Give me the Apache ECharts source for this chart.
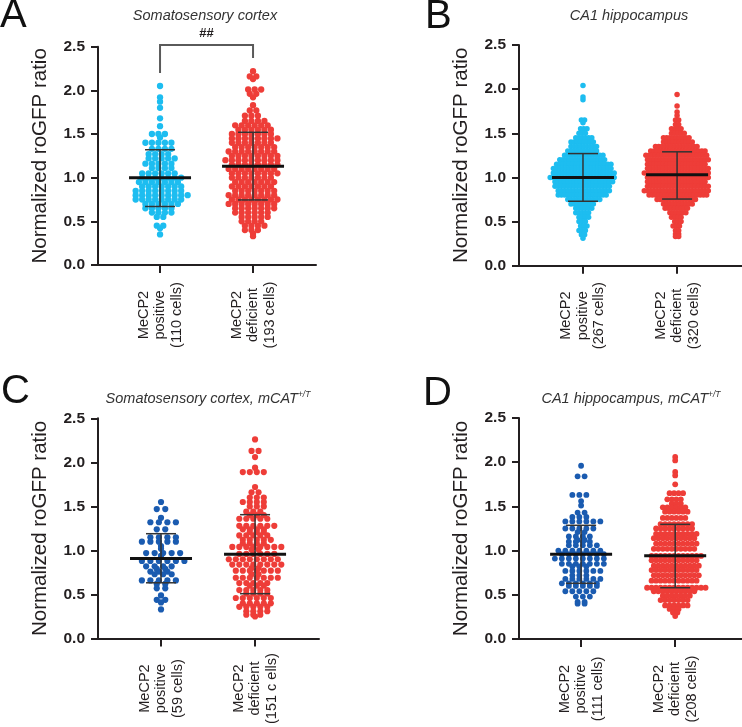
<!DOCTYPE html>
<html>
<head>
<meta charset="utf-8">
<title>Normalized roGFP ratio</title>
<script src="https://cdn.jsdelivr.net/npm/echarts@6/dist/echarts.min.js"></script>
<style>
  html, body { margin: 0; padding: 0; background: #fff; }
  #chart { width: 742px; height: 727px; }
</style>
</head>
<body>
<div id="chart"></div>
<script>
// rows of the dot plots: [ratio, number of cells drawn on that row]
const posA = [[2.05,1],[1.92,1],[1.87,1],[1.80,1],[1.68,1],[1.59,1],[1.50,3],[1.46,1],[1.40,5],[1.33,4],[1.27,4],[1.22,5],[1.16,5],[1.11,4],[1.05,6],[1.00,7],[0.95,7],[0.90,7],[0.85,8],[0.80,9],[0.75,8],[0.70,6],[0.65,5],[0.60,4],[0.55,2],[0.45,2],[0.42,1],[0.35,1]];
const defA = [[2.22,1],[2.16,2],[2.13,1],[2.01,3],[1.96,2],[1.92,1],[1.83,1],[1.77,2],[1.71,3],[1.65,4],[1.60,6],[1.55,6],[1.50,7],[1.45,8],[1.40,7],[1.35,7],[1.30,8],[1.25,8],[1.20,9],[1.15,8],[1.10,8],[1.05,8],[1.00,7],[0.95,7],[0.90,7],[0.85,7],[0.80,8],[0.75,8],[0.70,8],[0.65,7],[0.60,6],[0.55,5],[0.50,4],[0.45,4],[0.40,3],[0.36,1],[0.33,1]];
const posB = [[2.04,1],[1.91,1],[1.88,1],[1.65,2],[1.62,1],[1.55,3],[1.50,3],[1.45,6],[1.40,8],[1.35,9],[1.30,10],[1.25,13],[1.20,15],[1.15,18],[1.10,19],[1.05,20],[1.00,21],[0.95,19],[0.90,18],[0.85,17],[0.80,16],[0.75,11],[0.70,8],[0.65,6],[0.60,5],[0.55,4],[0.50,3],[0.45,3],[0.40,3],[0.35,2],[0.31,1]];
const defB = [[1.94,1],[1.81,1],[1.74,1],[1.70,1],[1.65,2],[1.60,2],[1.55,4],[1.50,5],[1.45,9],[1.40,10],[1.35,14],[1.30,18],[1.25,20],[1.20,20],[1.15,19],[1.10,20],[1.05,21],[1.00,20],[0.95,19],[0.90,20],[0.85,21],[0.80,19],[0.75,13],[0.70,10],[0.65,8],[0.60,6],[0.55,4],[0.50,3],[0.45,3],[0.40,2],[0.36,2],[0.33,2]];
const posC = [[1.55,1],[1.47,2],[1.37,1],[1.32,4],[1.24,2],[1.15,4],[1.10,5],[1.05,1],[1.02,1],[0.97,5],[0.94,1],[0.88,6],[0.82,4],[0.79,2],[0.76,3],[0.73,3],[0.66,5],[0.62,2],[0.57,2],[0.49,1],[0.44,2],[0.41,1],[0.33,1]];
const defC = [[2.26,1],[2.13,2],[2.06,1],[1.94,1],[1.89,4],[1.72,1],[1.66,2],[1.60,3],[1.55,4],[1.50,3],[1.44,3],[1.40,3],[1.36,5],[1.28,6],[1.24,4],[1.21,3],[1.17,5],[1.12,5],[1.08,4],[1.04,8],[1.01,2],[0.96,6],[0.90,8],[0.84,8],[0.80,2],[0.77,7],[0.73,2],[0.69,7],[0.63,5],[0.60,3],[0.55,5],[0.51,4],[0.46,6],[0.40,5],[0.36,5],[0.31,4],[0.27,3],[0.25,1]];
const posD = [[1.96,1],[1.84,2],[1.63,3],[1.56,1],[1.51,1],[1.43,2],[1.38,3],[1.33,6],[1.25,5],[1.21,2],[1.16,4],[1.12,2],[1.10,4],[1.06,5],[1.00,7],[0.96,7],[0.91,8],[0.85,7],[0.82,3],[0.77,6],[0.72,3],[0.68,6],[0.63,6],[0.60,5],[0.54,5],[0.48,3],[0.42,2],[0.40,2]];
const defD = [[2.06,1],[2.02,1],[1.89,1],[1.85,1],[1.75,1],[1.65,4],[1.58,4],[1.53,3],[1.49,6],[1.44,6],[1.37,6],[1.30,8],[1.25,9],[1.19,10],[1.14,10],[1.08,10],[1.02,10],[0.94,12],[0.89,11],[0.83,11],[0.78,11],[0.72,11],[0.66,11],[0.58,14],[0.54,10],[0.49,7],[0.44,7],[0.38,6],[0.34,3],[0.30,2],[0.26,1]];

// mean and SD (positive, deficient)
const meanA = [1.00, 1.13],  sdLowA = [0.67, 0.745], sdHighA = [1.32, 1.52];
const meanB = [1.00, 1.03],  sdLowB = [0.73, 0.755], sdHighB = [1.27, 1.29];
const meanC = [0.908, 0.957], sdLowC = [0.633, 0.509], sdHighC = [1.19, 1.406];
const meanD = [0.96, 0.942], sdLowD = [0.63, 0.58],  sdHighD = [1.286, 1.297];

const labelsA = [["MeCP2", "positive", "(110 cells)"], ["MeCP2", "deficient", "(193 cells)"]];
const labelsB = [["MeCP2", "positive", "(267 cells)"], ["MeCP2", "deficient", "(320 cells)"]];
const labelsC = [["MeCP2", "positive", "(59 cells)"], ["MeCP2", "deficient", "(151 c ells)"]];
const labelsD = [["MeCP2", "positive", "(111 cells)"], ["MeCP2", "deficient", "(208 cells)"]];

// significance bracket in A: [from, to, left foot, right foot, top]
const bracketA = [0, 1, 2.2, 2.37, 2.52];

const FONT = '"Liberation Sans", Arial, Helvetica, sans-serif';
const INK = "#231f20";
const LIGHT = "#1dbdf0";
const RED = "#ee3d38";
const DARK = "#1a5bb0";

const panels = [
  { grid: { left: 98, top: 46.7, width: 218, height: 218.3 }, xMin: -0.667, xMax: 1.677,
    groups: [posA, defA], colors: [LIGHT, RED], dot: 6.3, gap: [6.5, 6.5],
    mean: meanA, low: sdLowA, high: sdHighA, labels: labelsA },
  { grid: { left: 519, top: 45, width: 223, height: 220.7 }, xMin: -0.68, xMax: 1.69,
    groups: [posB, defB], colors: [LIGHT, RED], dot: 5.5, gap: [3.2, 3.2],
    mean: meanB, low: sdLowB, high: sdHighB, labels: labelsB },
  { grid: { left: 98, top: 418.3, width: 221, height: 221 }, xMin: -0.67, xMax: 1.68,
    groups: [posC, defC], colors: [DARK, RED], dot: 6.2, gap: [8.5, 7],
    mean: meanC, low: sdLowC, high: sdHighC, labels: labelsC },
  { grid: { left: 519, top: 418, width: 223, height: 221 }, xMin: -0.66, xMax: 1.71,
    groups: [posD, defD], colors: [DARK, RED], dot: 5.8, gap: [7, 4.5],
    mean: meanD, low: sdLowD, high: sdHighD, labels: labelsD },
];

// lay each row out side by side around the group centre, nudging
// alternate rows a little so neighbouring rows interlock
function swarm(rows, cat, gap) {
  const out = [];
  rows.forEach(([v, n], k) => {
    const nudge = n > 2 ? (k % 2 ? 0.25 : -0.25) * gap : 0;
    for (let i = 0; i < n; i++) {
      out.push({ value: [cat, v], symbolOffset: [(i - (n - 1) / 2) * gap + nudge, 0] });
    }
  });
  return out;
}

function errorBars(params, api) {
  const x = api.value(0);
  const pm = api.coord([x, api.value(1)]);
  const pl = api.coord([x, api.value(2)]);
  const ph = api.coord([x, api.value(3)]);
  const thin = { stroke: "#333", lineWidth: 1.5 };
  return {
    type: "group",
    children: [
      { type: "line", shape: { x1: pl[0], y1: pl[1], x2: ph[0], y2: ph[1] }, style: thin },
      { type: "line", shape: { x1: ph[0] - 15, y1: ph[1], x2: ph[0] + 15, y2: ph[1] }, style: thin },
      { type: "line", shape: { x1: pl[0] - 15, y1: pl[1], x2: pl[0] + 15, y2: pl[1] }, style: thin },
      { type: "line", shape: { x1: pm[0] - 31, y1: pm[1], x2: pm[0] + 31, y2: pm[1] }, style: { stroke: "#111", lineWidth: 3 } },
    ],
  };
}

function bracket(params, api) {
  const a = api.coord([api.value(0), api.value(2)]);
  const at = api.coord([api.value(0), api.value(4)]);
  const bt = api.coord([api.value(1), api.value(4)]);
  const b = api.coord([api.value(1), api.value(3)]);
  return {
    type: "group",
    children: [
      { type: "polyline", shape: { points: [a, at, bt, b] }, style: { stroke: "#5a5a5a", lineWidth: 2, fill: null } },
      { type: "text", x: (at[0] + bt[0]) / 2, y: at[1] - 5,
        style: { text: "##", font: "bold 13px " + FONT, fill: INK, align: "center", verticalAlign: "bottom" } },
    ],
  };
}

const grid = [], xAxis = [], yAxis = [], series = [];
panels.forEach((p, i) => {
  grid.push(p.grid);
  xAxis.push({
    type: "value", gridIndex: i, min: p.xMin, max: p.xMax,
    splitLine: { show: false },
    axisLine: { show: true, onZero: false, lineStyle: { color: INK, width: 2 } },
    axisTick: { show: true, customValues: [0, 1], length: 8, lineStyle: { color: INK, width: 2 } },
    axisLabel: {
      customValues: [0, 1], rotate: 90, margin: 15,
      formatter: (v) => p.labels[Math.round(v)].map((s) => "{l|" + s + "}").join("\n"),
      rich: { l: { width: 70, align: "center", fontSize: 14.5, lineHeight: 16.5, fontFamily: FONT, color: INK } },
    },
  });
  yAxis.push({
    type: "value", gridIndex: i, min: 0, max: 2.5, interval: 0.5,
    splitLine: { show: false },
    axisLine: { show: true, onZero: false, lineStyle: { color: INK, width: 2 } },
    axisTick: { show: true, length: 7, lineStyle: { color: INK, width: 2 } },
    axisLabel: { formatter: (v) => v.toFixed(1), fontSize: 15.5, fontWeight: "bold", color: INK, margin: 13, fontFamily: FONT },
    name: "Normalized roGFP ratio", nameLocation: "middle", nameGap: 47,
    nameTextStyle: { fontSize: 20.5, color: INK, fontFamily: FONT },
  });
  p.groups.forEach((rows, g) => {
    series.push({
      type: "scatter", xAxisIndex: i, yAxisIndex: i, silent: true,
      symbolSize: p.dot, itemStyle: { color: p.colors[g], opacity: 1 },
      data: swarm(rows, g, p.gap[g]), z: 2,
    });
  });
  series.push({
    type: "custom", xAxisIndex: i, yAxisIndex: i, silent: true, clip: false, z: 5,
    renderItem: errorBars,
    data: [0, 1].map((g) => [g, p.mean[g], p.low[g], p.high[g]]),
  });
});
series.push({
  type: "custom", xAxisIndex: 0, yAxisIndex: 0, silent: true, clip: false, z: 5,
  renderItem: bracket, data: [bracketA],
});

const letter = (t, x, y) => ({ type: "text", x, y, style: { text: t, font: "40px " + FONT, fill: "#111", align: "left", verticalAlign: "middle" } });
const heading = (t, x, y) => ({
  type: "text", x, y,
  style: {
    text: t, font: "italic 14.5px " + FONT, fill: "#333", align: "center", verticalAlign: "middle",
    rich: { sup: { fontSize: 8.5, fontStyle: "italic", fontFamily: FONT, fill: "#333", verticalAlign: "top", lineHeight: 18 },
            n: { fontSize: 14.5, fontStyle: "italic", fontFamily: FONT, fill: "#333", lineHeight: 18 } },
  },
});

const chart = echarts.init(document.getElementById("chart"));
chart.setOption({
  animation: false,
  backgroundColor: "#fff",
  grid, xAxis, yAxis, series,
  graphic: [
    letter("A", 0, 16),
    letter("B", 425, 17),
    letter("C", 1, 392),
    letter("D", 423, 394),
    heading("Somatosensory cortex", 205, 16),
    heading("CA1 hippocampus", 629, 16),
    heading("{n|Somatosensory cortex, mCAT}{sup|+/T}", 208, 399),
    heading("{n|CA1 hippocampus, mCAT}{sup|+/T}", 631, 399),
  ],
});
</script>
</body>
</html>
